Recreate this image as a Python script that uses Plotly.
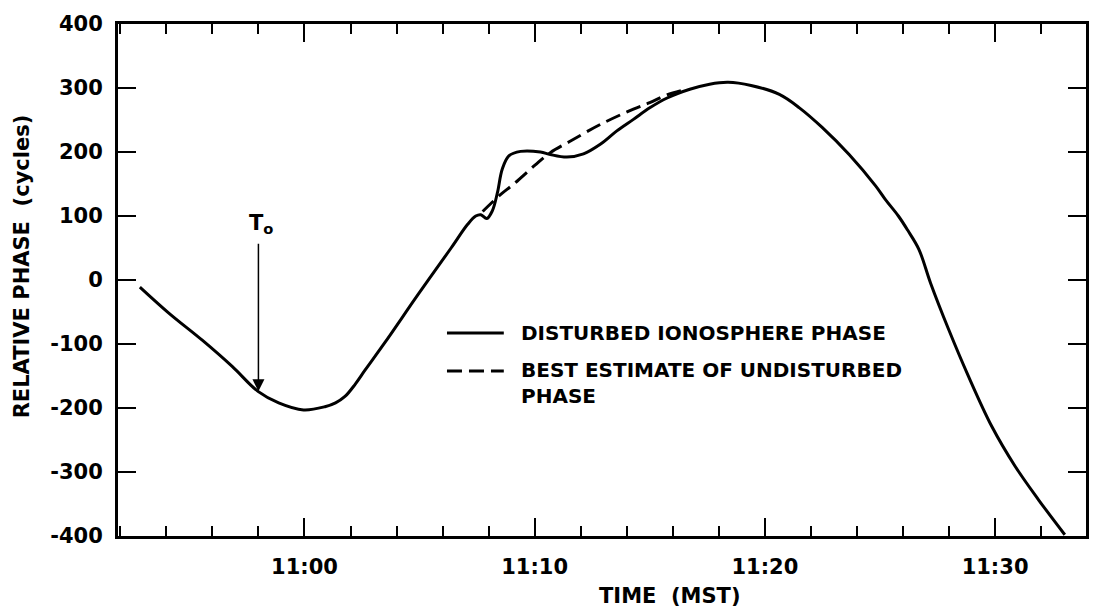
import plotly.graph_objects as go

# ---------------- data (time in minutes after 11:00 MST, phase in cycles) ----------------
disturbed_time = [-7.15, -5.88, -4.44, -3.14, -2.02, -1.12, -0.04, 0.89, 1.35, 1.76,
                  2.2, 2.63, 3.49, 4.93, 6.37, 7.09, 7.44, 7.66, 7.92, 8.16,
                  8.38, 8.59, 8.88, 9.39, 10.25, 10.68, 11.4, 12.12, 12.85, 13.57,
                  14.29, 15.0, 15.73, 16.74, 17.6, 18.4, 19.4, 20.63, 21.5, 22.5,
                  23.66, 24.81, 25.23, 25.8, 26.2, 26.69, 27.2, 27.98, 28.85, 29.86,
                  30.87, 31.88, 33.03]
disturbed_phase = [-11, -52, -94, -135, -174, -192, -203, -198, -192, -182,
                   -163, -141, -98, -23, 50, 87, 100, 102, 96, 108,
                   136, 173, 194, 201, 200, 196, 192, 197, 212, 233,
                   251, 269, 284, 298, 306, 309, 304, 290, 269, 238,
                   196, 147, 126, 100, 78, 48, -5, -77, -151, -229,
                   -291, -343, -398]

undisturbed_time = [7.74, 8.5, 9.09, 10.0, 10.68, 11.5, 12.85, 14.29, 15.0, 15.73, 16.5]
undisturbed_phase = [107, 133, 150, 179, 199, 216, 243, 267, 277, 289, 297]

x_tick_vals = [0, 10, 20, 30]
x_tick_text = ["11:00", "11:10", "11:20", "11:30"]
y_tick_vals = [-400, -300, -200, -100, 0, 100, 200, 300, 400]
y_tick_text = ["-400", "-300", "-200", "-100", "0", "100", "200", "300", "400"]

t0_time = -2.0
t0_phase = -174
t0_label = "T<sub>o</sub>"

legend_labels = ["DISTURBED IONOSPHERE PHASE", "BEST ESTIMATE OF UNDISTURBED<br>PHASE"]
x_title = "TIME&nbsp;&nbsp;(MST)"
y_title = "RELATIVE PHASE&nbsp;&nbsp;(cycles)"

# ---------------- layout constants ----------------
W, H = 1094, 610
L, R, T, B = 118, 5, 24, 74
PW, PH = W - L - R, H - T - B
FONT = "DejaVu Sans"
DASH = "15px,7px"


def pxx(px):
    return (px - L) / PW


def pxy(py):
    return (H - B - py) / PH


fig = go.Figure()
fig.add_trace(go.Scatter(
    x=disturbed_time, y=disturbed_phase, mode="lines",
    line=dict(color="black", width=3, shape="spline", smoothing=1.0),
    showlegend=False, name="DISTURBED IONOSPHERE PHASE"))
fig.add_trace(go.Scatter(
    x=undisturbed_time, y=undisturbed_phase, mode="lines",
    line=dict(color="black", width=3, dash=DASH, shape="spline", smoothing=1.0),
    showlegend=False, name="BEST ESTIMATE OF UNDISTURBED PHASE"))

axis_common = dict(
    showline=True, linewidth=3, linecolor="black", mirror="ticks",
    ticks="inside", ticklen=18, tickwidth=2, tickcolor="black",
    showgrid=False, zeroline=False,
    tickfont=dict(family=FONT, size=21, color="black", weight="bold"),
)

fig.update_xaxes(
    range=[-8.1, 33.95], tickmode="array", tickvals=x_tick_vals, ticktext=x_tick_text,
    ticklabelstandoff=10,
    minor=dict(tickmode="linear", tick0=0, dtick=2, ticks="inside", ticklen=10,
               tickwidth=2, tickcolor="black", showgrid=False),
    **axis_common)
fig.update_yaxes(
    range=[-400, 400], tickmode="array", tickvals=y_tick_vals, ticktext=y_tick_text,
    ticklabelstandoff=8, **axis_common)

ann_font = dict(family=FONT, size=21, color="black", weight="bold")
leg_font = dict(family=FONT, size=20, color="black", weight="bold")

annotations = [
    # axis titles
    dict(text=y_title, xref="paper", yref="paper", x=pxx(22), y=pxy(266),
         textangle=-90, showarrow=False, font=ann_font, xanchor="center", yanchor="middle"),
    dict(text=x_title, xref="paper", yref="paper", x=pxx(672), y=pxy(596),
         showarrow=False, font=ann_font, xanchor="center", yanchor="middle"),
    # T0 arrow
    dict(x=t0_time, y=t0_phase, ax=t0_time, ay=59, xref="x", yref="y", axref="x", ayref="y",
         text="", showarrow=True, arrowhead=2, arrowsize=1.6, arrowwidth=1.5, arrowcolor="black"),
    dict(text=t0_label, x=t0_time + 0.12, y=88, xref="x", yref="y", showarrow=False,
         font=ann_font, xanchor="center", yanchor="middle"),
    # legend texts
    dict(text=legend_labels[0], xref="paper", yref="paper", x=pxx(520), y=pxy(333),
         showarrow=False, font=leg_font, xanchor="left", yanchor="middle", align="left"),
    dict(text=legend_labels[1], xref="paper", yref="paper", x=pxx(520), y=pxy(383),
         showarrow=False, font=leg_font, xanchor="left", yanchor="middle", align="left"),
]

shapes = [
    dict(type="line", xref="paper", yref="paper", x0=pxx(448), x1=pxx(505),
         y0=pxy(333), y1=pxy(333), line=dict(color="black", width=3)),
    dict(type="line", xref="paper", yref="paper", x0=pxx(448), x1=pxx(505),
         y0=pxy(371), y1=pxy(371), line=dict(color="black", width=3, dash=DASH)),
]

fig.update_layout(
    width=W, height=H, margin=dict(l=L, r=R, t=T, b=B),
    paper_bgcolor="white", plot_bgcolor="white",
    annotations=annotations, shapes=shapes, showlegend=False,
    font=dict(family=FONT, color="black"),
)

fig.write_html("out.html")
